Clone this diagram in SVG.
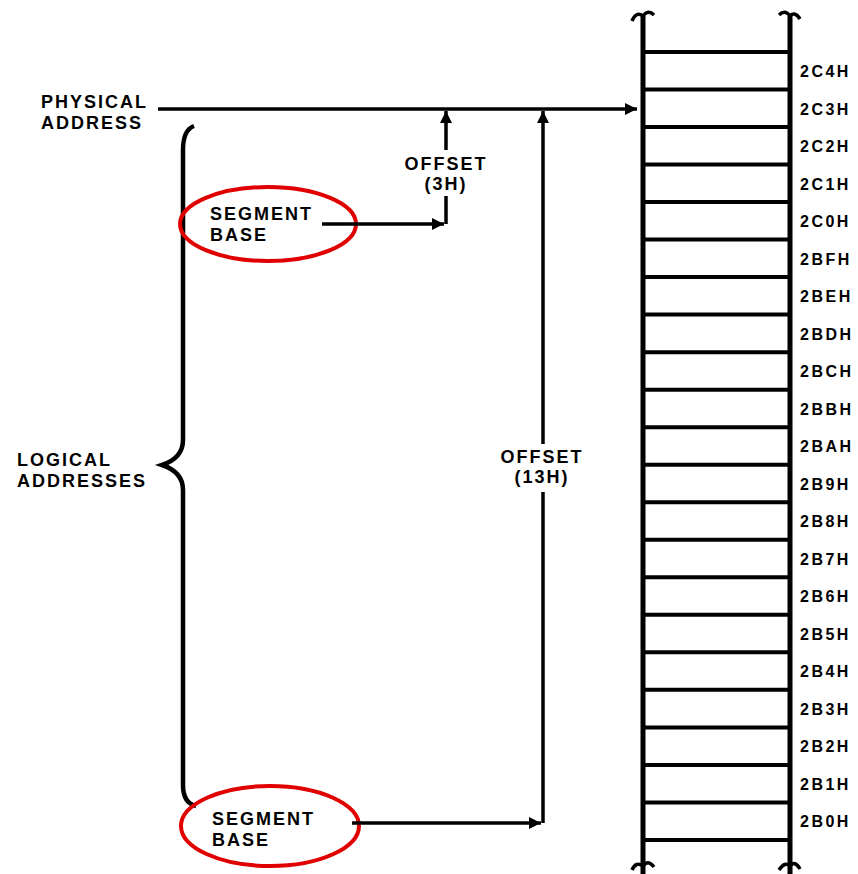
<svg xmlns="http://www.w3.org/2000/svg" width="858" height="874" viewBox="0 0 858 874">
<style>
text{font-family:"Liberation Sans",Arial,sans-serif;font-weight:bold;fill:#000;}
.lbl{font-size:18px;letter-spacing:2px;}
.mem{font-size:16px;letter-spacing:2.5px;}
.ln{stroke:#000;stroke-width:3.5;fill:none;}
.col{stroke:#000;stroke-width:5;fill:none;}
.row{stroke:#000;stroke-width:4;}
.ring{fill:none;stroke:#e00000;stroke-width:4;}
</style>
<defs>
<marker id="ah2" viewBox="0 0 10 10" refX="10" refY="5" markerWidth="22" markerHeight="12" markerUnits="userSpaceOnUse" orient="auto">
<path d="M0,0 L10,5 L0,10 Z" fill="#000"/>
</marker>
</defs>

<g id="memory">
<path class="col" d="M643,16 V874 M790,16 V874"/>
<path class="ln" d="M632,21 q4,-10 11,-5 q5,-7 11,-1 M779,15 q6,-6 11,1 q5,-5 10,3"/>
<path class="ln" d="M632,870 q4,-9 11,-4 q5,-7 11,1 M779,870 q6,-9 11,-4 q5,-6 10,3"/>
<g class="row">
<line x1="643" y1="52" x2="790" y2="52"/><line x1="643" y1="89.5" x2="790" y2="89.5"/><line x1="643" y1="127" x2="790" y2="127"/><line x1="643" y1="164.6" x2="790" y2="164.6"/><line x1="643" y1="202.1" x2="790" y2="202.1"/><line x1="643" y1="239.6" x2="790" y2="239.6"/><line x1="643" y1="277.1" x2="790" y2="277.1"/><line x1="643" y1="314.6" x2="790" y2="314.6"/><line x1="643" y1="352.2" x2="790" y2="352.2"/><line x1="643" y1="389.7" x2="790" y2="389.7"/><line x1="643" y1="427.2" x2="790" y2="427.2"/><line x1="643" y1="464.7" x2="790" y2="464.7"/><line x1="643" y1="502.2" x2="790" y2="502.2"/><line x1="643" y1="539.8" x2="790" y2="539.8"/><line x1="643" y1="577.3" x2="790" y2="577.3"/><line x1="643" y1="614.8" x2="790" y2="614.8"/><line x1="643" y1="652.3" x2="790" y2="652.3"/><line x1="643" y1="689.8" x2="790" y2="689.8"/><line x1="643" y1="727.4" x2="790" y2="727.4"/><line x1="643" y1="764.9" x2="790" y2="764.9"/><line x1="643" y1="802.4" x2="790" y2="802.4"/><line x1="643" y1="840" x2="790" y2="840"/>
</g>
<g class="mem">
<text x="800" y="77">2C4H</text><text x="800" y="114.5">2C3H</text><text x="800" y="152">2C2H</text><text x="800" y="189.5">2C1H</text><text x="800" y="227">2C0H</text><text x="800" y="264.6">2BFH</text><text x="800" y="302.1">2BEH</text><text x="800" y="339.6">2BDH</text><text x="800" y="377.1">2BCH</text><text x="800" y="414.6">2BBH</text><text x="800" y="452.2">2BAH</text><text x="800" y="489.7">2B9H</text><text x="800" y="527.2">2B8H</text><text x="800" y="564.7">2B7H</text><text x="800" y="602.2">2B6H</text><text x="800" y="639.8">2B5H</text><text x="800" y="677.3">2B4H</text><text x="800" y="714.8">2B3H</text><text x="800" y="752.3">2B2H</text><text x="800" y="789.8">2B1H</text><text x="800" y="827.4">2B0H</text>
</g>
</g>

<g id="physical-address">
<text class="lbl" x="41" y="108">PHYSICAL</text>
<text class="lbl" x="41" y="129">ADDRESS</text>
</g>

<g id="logical-addresses">
<text class="lbl" x="17" y="466">LOGICAL</text>
<text class="lbl" x="17" y="487">ADDRESSES</text>
<path d="M194,126 Q183,130 183,150 V440 Q183,458 162,465 Q183,472 183,490 V785 Q183,803 196,806" fill="none" stroke="#000" stroke-width="4.5"/>
</g>

<g id="segment-base-1">
<ellipse class="ring" cx="268" cy="224" rx="88" ry="37"/>
<text class="lbl" x="210" y="220">SEGMENT</text>
<text class="lbl" x="210" y="241">BASE</text>
</g>

<g id="segment-base-2">
<ellipse class="ring" cx="270" cy="826" rx="89" ry="40"/>
<text class="lbl" x="212" y="825">SEGMENT</text>
<text class="lbl" x="212" y="846">BASE</text>
</g>

<g id="offset-3h">
<text class="lbl" x="446" y="170" text-anchor="middle">OFFSET</text>
<text class="lbl" x="446" y="190" text-anchor="middle">(3H)</text>
</g>

<g id="offset-13h">
<text class="lbl" x="542" y="463" text-anchor="middle">OFFSET</text>
<text class="lbl" x="542" y="483" text-anchor="middle">(13H)</text>
</g>

<g id="connectors">
<line class="ln" x1="158" y1="109" x2="637" y2="109" marker-end="url(#ah2)"/>
<line class="ln" x1="322" y1="224" x2="444" y2="224" marker-end="url(#ah2)"/>
<line class="ln" x1="446" y1="224" x2="446" y2="196"/>
<line class="ln" x1="446" y1="150" x2="446" y2="111" marker-end="url(#ah2)"/>
<line class="ln" x1="352" y1="823" x2="541" y2="823" marker-end="url(#ah2)"/>
<line class="ln" x1="543" y1="823" x2="543" y2="492"/>
<line class="ln" x1="543" y1="444" x2="543" y2="111" marker-end="url(#ah2)"/>
</g>
</svg>
